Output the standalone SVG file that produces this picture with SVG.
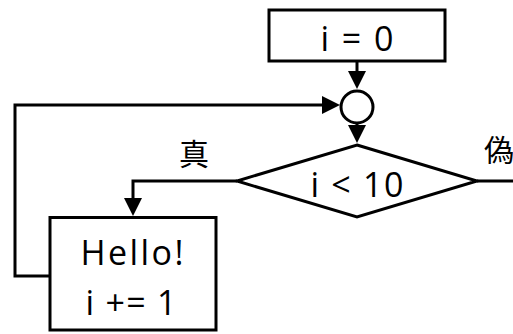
<svg xmlns="http://www.w3.org/2000/svg" width="513" height="334" viewBox="0 0 513 334">
<style>
.shape{fill:#fff;stroke:#000;stroke-width:3}
.conn{fill:none;stroke:#000;stroke-width:3;stroke-linejoin:miter}
.lbl{font-family:"Open Sans","Liberation Sans",sans-serif;font-size:34px;fill:#000;text-anchor:middle}
.cjk{font-family:"Noto Sans CJK JP","Noto Sans CJK SC",sans-serif;font-size:30px;fill:#000}
</style>
<defs>
<marker id="arr" markerUnits="userSpaceOnUse" viewBox="0 0 18 18" refX="0" refY="9" markerWidth="18" markerHeight="18" orient="auto">
<path d="M0,0 L18,9 L0,18 Z" fill="#000"/>
</marker>
</defs>
<g id="connectors">
<path class="conn" d="M357,62 V71" marker-end="url(#arr)"/>
<path class="conn" d="M50,276 H15 V105 H322" marker-end="url(#arr)"/>
<path class="conn" d="M357,121 V125" marker-end="url(#arr)"/>
<path class="conn" d="M237,181 H133 V198" marker-end="url(#arr)"/>
<path class="conn" d="M477,181 H513"/>
</g>
<g id="init">
<rect class="shape" x="269" y="10" width="176" height="51"/>
<text class="lbl" x="357" y="51" textLength="73" lengthAdjust="spacing">i = 0</text>
</g>
<g id="merge">
<circle class="shape" cx="357" cy="107" r="16"/>
</g>
<g id="cond">
<polygon class="shape" points="357,145 477,181 357,217 237,181"/>
<text class="lbl" x="357" y="197" textLength="93" lengthAdjust="spacing">i &lt; 10</text>
</g>
<g id="body">
<rect class="shape" x="50" y="217.5" width="166" height="112.5"/>
<text class="lbl" x="132" y="265" textLength="103" lengthAdjust="spacing">Hello!</text>
<text class="lbl" x="131" y="315" textLength="91" lengthAdjust="spacing">i += 1</text>
</g>
<g id="labels">
<text class="cjk" x="179" y="165">真</text>
<text class="cjk" x="484" y="161">偽</text>
</g>
</svg>
